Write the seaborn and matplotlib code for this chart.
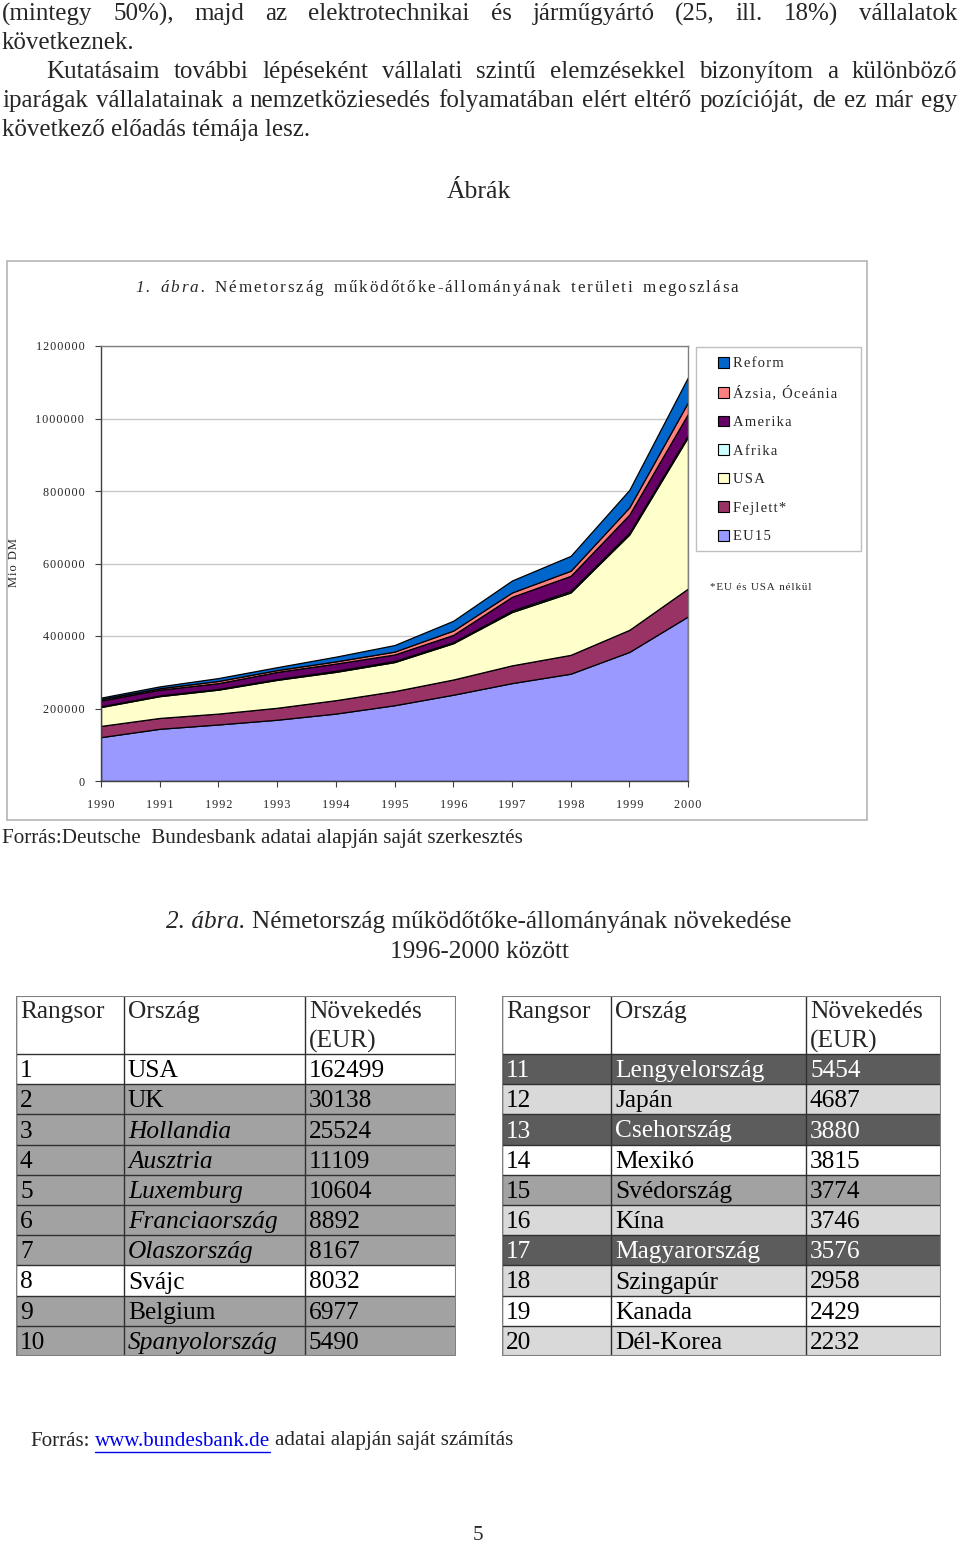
import matplotlib
matplotlib.use('Agg')
import numpy as np
import seaborn as sns
import matplotlib.pyplot as plt
from matplotlib.patches import Rectangle, Patch
from matplotlib.lines import Line2D

# ---- data ----
years = list(range(1990, 2001))
eu15 = [121, 144, 156, 169, 186, 209, 238, 270, 296, 356, 454]
fejlett = [31, 30, 30, 33, 37, 39, 42, 49, 52, 61, 77]
usa = [52, 60, 66, 77, 78, 80, 100, 147, 172, 263, 418]
afrika = [2, 2, 2, 2, 3, 3, 3, 4, 4, 5, 5]
amerika = [16, 16, 16, 20, 20, 18, 20, 38, 42, 50, 59]
azsia = [4, 4, 6, 5, 6, 8, 12, 12, 14, 20, 32]
reform = [4, 5, 8, 8, 13, 18, 27, 33, 41, 48, 69]
series_names = ['EU15', 'Fejlett*', 'USA', 'Afrika', 'Amerika', 'Ázsia, Óceánia', 'Reform']
series_colors = ['#9999ff', '#993366', '#ffffcc', '#ccffff', '#660066', '#ff8080', '#0066cc']

rank_left = ['1', '2', '3', '4', '5', '6', '7', '8', '9', '10']
country_left = ['USA', 'UK', 'Hollandia', 'Ausztria', 'Luxemburg', 'Franciaország',
                'Olaszország', 'Svájc', 'Belgium', 'Spanyolország']
growth_left = ['162499', '30138', '25524', '11109', '10604', '8892', '8167', '8032', '6977', '5490']
italic_left = [False, False, True, True, True, True, True, False, False, True]
fill_left = ['w', 'g', 'g', 'g', 'g', 'g', 'g', 'w', 'g', 'g']

rank_right = ['11', '12', '13', '14', '15', '16', '17', '18', '19', '20']
country_right = ['Lengyelország', 'Japán', 'Csehország', 'Mexikó', 'Svédország', 'Kína',
                 'Magyarország', 'Szingapúr', 'Kanada', 'Dél-Korea']
growth_right = ['5454', '4687', '3880', '3815', '3774', '3746', '3576', '2958', '2429', '2232']
fill_right = ['d', 'l', 'd', 'w', 'g', 'l', 'd', 'l', 'w', 'l']

shade = {'w': 'white', 'g': '#a2a2a2', 'l': '#d9d9d9', 'd': '#5c5c5c'}

sns.set_theme(style='white')
SERIF = ['Liberation Serif', 'DejaVu Serif']
plt.rcParams['font.family'] = SERIF

W, H = 960, 1545
fig = plt.figure(figsize=(W / 100, H / 100), dpi=100)
renderer = fig.canvas.get_renderer()


def fx(x):
    return x / W


def fy(y):
    return 1 - y / H


def spaced(s):
    return '\u200a'.join(s)


def width(t):
    return t.get_window_extent(renderer=renderer).width


def put(x, y, s, size, **kw):
    return fig.text(fx(x), fy(y), s, fontsize=size, va='center', **kw)


def space_width(size, **kw):
    a = put(0, 0, 'a a', size, **kw)
    b = put(0, 0, 'aa', size, **kw)
    sp = width(a) - width(b)
    a.remove()
    b.remove()
    return sp


def justify(line, y, size, x0, x1):
    words = line.split()
    ts = [put(x0, y, w, size) for w in words]
    ws = [width(t) for t in ts]
    gap = (x1 - x0 - sum(ws)) / (len(words) - 1)
    x = x0
    for t, w in zip(ts, ws):
        t.set_x(fx(x))
        x += w + gap


def tracked(x0, x1, y, segs, size):
    # letter-spaced text stretched between x0 and x1
    items = []
    for s, kw in segs:
        for c in s:
            if c == ' ':
                items.append((None, 1.6 * space_width(size, **kw)))
            else:
                t = put(x0, y, c, size, **kw)
                items.append((t, width(t)))
    gap = (x1 - x0 - sum(w for _, w in items)) / (len(items) - 1)
    x = x0
    for t, w in items:
        if t is not None:
            t.set_x(fx(x))
        x += w + gap


def run(x, y, parts, size):
    sp = space_width(size)
    out = []
    for s, kw in parts:
        t = put(x, y, s, size, **kw)
        out.append((x, width(t)))
        x += width(t) + sp
    return out


# ---- body text ----
BODY = 18
justify('(mintegy 50%), majd az elektrotechnikai és járműgyártó (25, ill. 18%) vállalatok', 14, BODY, 2, 957)
put(2, 43, 'következnek.', BODY)
justify('Kutatásaim további lépéseként vállalati szintű elemzésekkel bizonyítom a különböző', 72, BODY, 46, 957)
justify('iparágak vállalatainak a nemzetköziesedés folyamatában elért eltérő pozícióját, de ez már egy', 101, BODY, 2, 957)
put(2, 130, 'következő előadás témája lesz.', BODY)
put(479, 192, 'Ábrák', 18.5, ha='center')

# ---- figure 1 ----
fig.patches.append(Rectangle((fx(7), fy(820)), fx(860), 559 / H, transform=fig.transFigure,
                             fill=False, edgecolor='#b5b5b5', lw=1.2))
tracked(135, 738, 288, [('1. ábra.', dict(style='italic')),
                        (' Németország működőtőke-állományának területi megoszlása', {})], 12.3)

ax = fig.add_axes([fx(101), fy(781), 587 / W, 435 / H])
layers = [np.array(v) * 1000 for v in [eu15, fejlett, usa, afrika, amerika, azsia, reform]]
ax.stackplot(years, *layers, colors=series_colors, edgecolor='black', linewidth=0.9)
ax.set_xlim(1990, 2000)
ax.set_ylim(0, 1200000)
yt = list(range(0, 1200001, 200000))
ax.set_yticks(yt)
ax.set_yticklabels([spaced(str(v)) for v in yt], fontsize=8.7)
ax.set_xticks(years)
ax.set_xticklabels([spaced(str(v)) for v in years], fontsize=8.7)
ax.yaxis.grid(True, color='#c8c8c8', lw=1)
ax.set_axisbelow(True)
for side in ax.spines.values():
    side.set_color('#808080')
    side.set_linewidth(1)
ax.spines['left'].set_color('#404040')
ax.spines['bottom'].set_color('#404040')
ax.tick_params(axis='both', length=4, width=0.8, color='#404040', pad=8, direction='out',
               left=True, bottom=True)
ax.tick_params(axis='x', pad=9)
ax.set_ylabel(spaced('Mio DM'), fontsize=9, labelpad=10)
ax.yaxis.set_label_coords(-(101 - 20) / 587, (781 - 563) / 435)

# legend: frameless entries + separate box
fig.patches.append(Rectangle((fx(696), fy(551)), 165 / W, 204 / H, transform=fig.transFigure,
                             fill=False, edgecolor='#c0c0c0', lw=1))
handles = [Patch(facecolor=c, edgecolor='black', lw=0.8) for c in series_colors][::-1]
labels = [spaced(n) for n in series_names][::-1]
fig.legend(handles, labels, loc='upper left',
           bbox_to_anchor=(fx(718), fy(357)), bbox_transform=fig.transFigure,
           fontsize=10.5, frameon=False, borderaxespad=0, borderpad=0,
           handlelength=0.75, handleheight=0.75, handletextpad=0.3, labelspacing=1.04)
put(710, 588, spaced('*EU és USA nélkül'), 7.9)

put(2, 838, 'Forrás:Deutsche  Bundesbank adatai alapján saját szerkesztés', 15.2)

# ---- figure 2 ----
run(166, 922, [('2. ábra.', dict(style='italic')),
               ('Németország működőtőke-állományának növekedése', {})], 18.2)
put(479, 952, '1996-2000 között', 18.2, ha='center')


def draw_table(x0, x1, edges, ranks, countries, growth, fills, italics):
    tab = fig.add_axes([fx(x0), fy(1356), (x1 - x0) / W, 360 / H])
    tab.set_xlim(0, x1 - x0)
    tab.set_ylim(360, 0)
    tab.axis('off')
    head_h = 58
    row_h = (360 - head_h) / len(ranks)
    size = 18.3
    for j, hd in enumerate(['Rangsor', 'Ország', 'Növekedés']):
        tab.text(edges[j] + 4, 16, hd, fontsize=size, va='center')
    tab.text(edges[2] + 4, 45, '(EUR)', fontsize=size, va='center')
    for i in range(len(ranks)):
        top = head_h + i * row_h
        fc = shade[fills[i]]
        tc = 'white' if fills[i] == 'd' else 'black'
        tab.add_patch(Rectangle((0, top), x1 - x0, row_h, facecolor=fc, edgecolor='none', zorder=0))
        vals = [ranks[i], countries[i], growth[i]]
        for j, v in enumerate(vals):
            st = 'italic' if (j == 1 and italics[i]) else 'normal'
            tab.text(edges[j] + 4, top + row_h / 2 + 2, v, fontsize=size, va='center',
                     color=tc, style=st)
        tab.axhline(top, color='#303030', lw=1)
    for e in edges:
        tab.axvline(e, color='#303030', lw=1)
    tab.axhline(0, color='#808080', lw=1.5)
    tab.axhline(360, color='#808080', lw=1.5)
    tab.axvline(0, color='#808080', lw=1.5)
    tab.axvline(x1 - x0, color='#808080', lw=1.5)


draw_table(16, 456, [0, 108, 289, 440], rank_left, country_left, growth_left, fill_left, italic_left)
draw_table(502, 941, [0, 109, 304, 439], rank_right, country_right, growth_right, fill_right,
           [False] * 10)

# ---- source & page number ----
pos = run(30, 1441, [('Forrás:', {}), ('www.bundesbank.de', dict(color='#0000ee')),
                     ('adatai alapján saját számítás', {})], 15.1)
lx, lw_ = pos[1]
fig.lines.append(Line2D([fx(lx), fx(lx + lw_)], [fy(1452), fy(1452)], transform=fig.transFigure,
                        color='#0000ee', lw=1))
put(478, 1536, '5', 15, ha='center')

fig.savefig('out.png', dpi=100)
